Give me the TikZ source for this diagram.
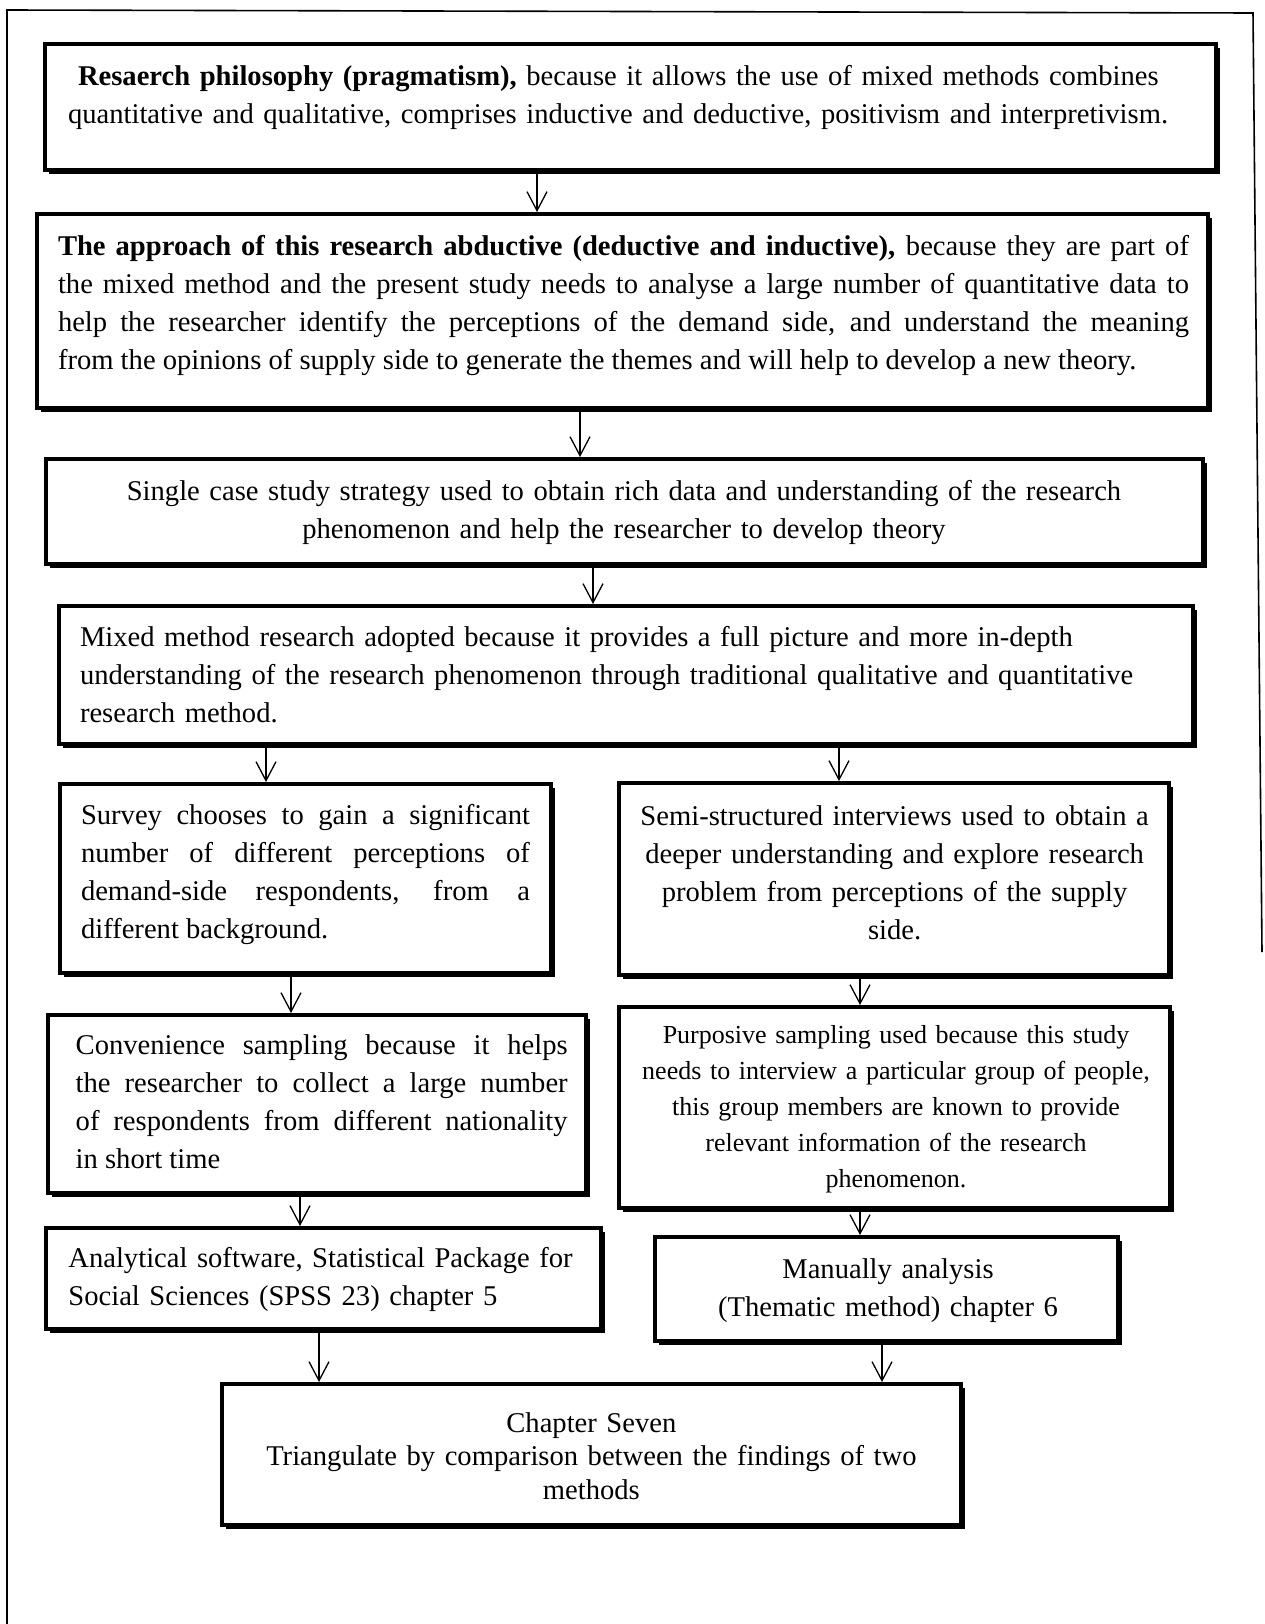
\documentclass[tikz,border=0pt]{standalone}
\usepackage{fontspec}
\setmainfont{Liberation Serif}
\usetikzlibrary{arrows.meta,shadows}
\hyphenpenalty=10000
\exhyphenpenalty=10000

\begin{document}
\begin{tikzpicture}[x=1pt,y=-1pt,
  flowbox/.style={draw=black, line width=3.5pt, fill=white, inner sep=0pt,
    drop shadow={shadow xshift=4pt, shadow yshift=-4pt, fill=black, opacity=1}},
  txt/.style={inner sep=0pt, font=\fontsize{28.6pt}{38pt}\selectfont},
  smalltxt/.style={inner sep=0pt, font=\fontsize{26pt}{36pt}\selectfont},
  tighttxt/.style={inner sep=0pt, font=\fontsize{28.6pt}{33.5pt}\selectfont},
  arr/.style={line width=1.3pt, -{Straight Barb[length=19pt,width=20pt,line width=1.3pt]}}
]
% page and frame
\fill[white] (0,0) rectangle (1264,1624);
\useasboundingbox (0,0) rectangle (1264,1624);
\draw[line width=2pt] (7,1624) -- (7,10);
\draw[line width=1.6pt] (6,10) -- (1253,13) -- (1262,952);

% boxes
\node[flowbox, minimum width=1171.25, minimum height=126.25] (b1) at (630.4,106.9) {};
\node[flowbox, minimum width=1171.25, minimum height=194.25] (b2) at (622.4,310.9) {};
\node[flowbox, minimum width=1157.25, minimum height=105.25] (b3) at (624.4,511.4) {};
\node[flowbox, minimum width=1134.25, minimum height=138.25] (b4) at (625.9,674.9) {};
\node[flowbox, minimum width=491.25, minimum height=189.25] (b5) at (305.4,878.4) {};
\node[flowbox, minimum width=550.25, minimum height=192.25] (b6) at (893.9,878.9) {};
\node[flowbox, minimum width=538.25, minimum height=178.25] (b7) at (316.9,1103.9) {};
\node[flowbox, minimum width=551.25, minimum height=201.25] (b8) at (894.4,1107.4) {};
\node[flowbox, minimum width=555.25, minimum height=101.25] (b9) at (323.4,1278.4) {};
\node[flowbox, minimum width=463.25, minimum height=104.25] (b10) at (886.4,1288.9) {};
\node[flowbox, minimum width=739.25, minimum height=141.25] (b11) at (591.4,1454.4) {};

% texts
\node[txt, text width=1124, align=left] (t1) at (630,97) {\strut\hspace*{10pt}\textbf{Resaerch philosophy (pragmatism),} because it allows the use of mixed methods combines\\ quantitative and qualitative, comprises inductive and deductive, positivism and interpretivism.\strut};
\node[txt, text width=1131, align=justify] (t2) at (623.5,304.5) {\strut\textbf{The approach of this research abductive (deductive and inductive),} because they are part of\linebreak the mixed method and the present study needs to analyse a large number of quantitative data to\linebreak help the researcher identify the perceptions of the demand side, and understand the meaning\linebreak from the opinions of supply side to generate the themes and will help to develop a new theory.\strut};
\node[txt, text width=1120, align=center] (t3) at (624,511.4) {\strut Single case study strategy used to obtain rich data and understanding of the research\\ phenomenon and help the researcher to develop theory\strut};
\node[txt, text width=1100, align=left] (t4) at (630,677) {\strut Mixed method research adopted because it provides a full picture and more in-depth\\ understanding of the research phenomenon through traditional qualitative and quantitative\\ research method.\strut};
\node[txt, text width=449, align=justify] (t5) at (305.5,874) {\strut Survey chooses to gain a significant\linebreak number of different perceptions of\linebreak demand-side respondents, from a\linebreak different background.\strut};
\node[txt, text width=540, align=center] (t6) at (894.6,874.5) {\strut Semi-structured interviews used to obtain a\\ deeper understanding and explore research\\ problem from perceptions of the supply\\ side.\strut};
\node[txt, text width=492, align=justify] (t7) at (321.7,1103.9) {\strut Convenience sampling because it helps\linebreak the researcher to collect a large number\linebreak of respondents from different nationality\linebreak in short time\strut};
\node[smalltxt, text width=540, align=center] (t8) at (896,1108.5) {\strut Purposive sampling used because this study\\ needs to interview a particular group of people,\\ this group members are known to provide\\ relevant information of the research\\ phenomenon.\strut};
\node[txt, text width=520, align=left] (t9) at (328.4,1278.4) {\strut Analytical software, Statistical Package for\\ Social Sciences (SPSS 23) chapter 5\strut};
\node[txt, text width=450, align=center] (t10) at (888,1289.5) {\strut Manually analysis\\ (Thematic method) chapter 6\strut};
\node[tighttxt, text width=720, align=center] (t11) at (591.4,1459) {\strut Chapter Seven\\ Triangulate by comparison between the findings of two\\ methods\strut};

% arrow columns
\coordinate (x1) at (537,0);
\coordinate (x2) at (580,0);
\coordinate (x3) at (593,0);
\coordinate (x4) at (266,0);
\coordinate (x5) at (839,0);
\coordinate (x6) at (291,0);
\coordinate (x7) at (860,0);
\coordinate (x8) at (300,0);
\coordinate (x9) at (319,0);
\coordinate (x10) at (882,0);

% connectors
\draw[arr] (b1.south -| x1) -- (b2.north -| x1);
\draw[arr] (b2.south -| x2) -- (b3.north -| x2);
\draw[arr] (b3.south -| x3) -- (b4.north -| x3);
\draw[arr] (b4.south -| x4) -- (b5.north -| x4);
\draw[arr] (b4.south -| x5) -- (b6.north -| x5);
\draw[arr] (b5.south -| x6) -- (b7.north -| x6);
\draw[arr] (b6.south -| x7) -- (b8.north -| x7);
\draw[arr] (b7.south -| x8) -- (b9.north -| x8);
\draw[arr] (b8.south -| x7) -- (b10.north -| x7);
\draw[arr] (b9.south -| x9) -- (b11.north -| x9);
\draw[arr] (b10.south -| x10) -- (b11.north -| x10);
\end{tikzpicture}
\end{document}
